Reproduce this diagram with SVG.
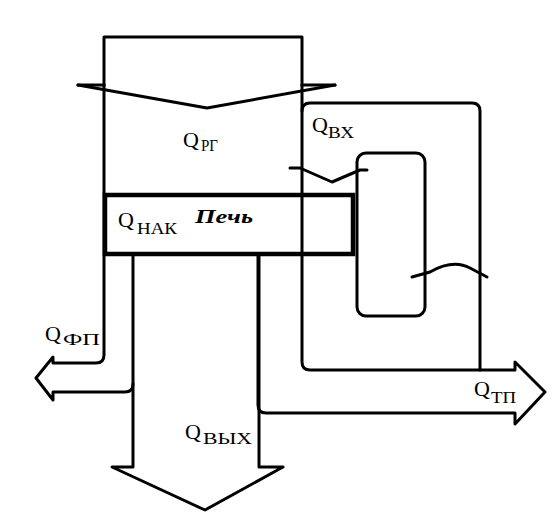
<svg xmlns="http://www.w3.org/2000/svg" width="559" height="524" viewBox="0 0 559 524">
<style>
.ln{fill:none;stroke:#000;stroke-width:3;stroke-linejoin:round;stroke-linecap:round}
.q{font-family:"Liberation Serif","Times New Roman",serif;font-size:22px;fill:#000}
.s{font-family:"Liberation Serif","Times New Roman",serif;font-size:16px;fill:#000}
.t{font-family:"Liberation Serif","Times New Roman",serif;font-size:18px;font-weight:bold;font-style:italic;fill:#000}
</style>
<rect width="559" height="524" fill="#fff"/>
<g id="connectors">
<path class="ln" d="M104,85 V37 H302 V85"/>
<path class="ln" d="M78,85 H104 M302,85 H335"/>
<path class="ln" d="M78,85 L207,108 L335,85"/>
<path class="ln" d="M104,85 V355 Q104,363 96,363 H53 V357 L36,378 L53,400 V392 H125 Q133,392 133,384"/>
<path class="ln" d="M133,254 V467 H112 L205,510 L283,467 H259 V254"/>
<path class="ln" d="M302,85 V362 Q302,370 310,370 H515 V362 L545,392 L515,424 V413 H266 Q258,413 258,405 V254"/>
<path class="ln" d="M302,111 Q302,103 310,103 H472 Q480,103 480,111 V370"/>
<path class="ln" d="M290,168 H300 L332,182 L360,170 H367"/>
<path class="ln" d="M412,277 L430,272 Q453,259 470,268 L487,277"/>
</g>
<g id="furnace">
<rect x="105" y="195" width="248" height="59" fill="none" stroke="#000" stroke-width="4.5"/>
<text class="t" x="195" y="223" textLength="58" lengthAdjust="spacingAndGlyphs">Печь</text>
</g>
<g id="exchanger">
<rect x="357" y="153" width="68" height="163" rx="9" fill="none" stroke="#000" stroke-width="3"/>
</g>
<g id="labels">
<text class="q" x="183" y="147">Q</text><text class="s" x="201" y="151" textLength="17" lengthAdjust="spacingAndGlyphs">РГ</text>
<text class="q" x="312" y="132">Q</text><text class="s" x="328" y="138" textLength="26" lengthAdjust="spacingAndGlyphs">ВХ</text>
<text class="q" x="118" y="227">Q</text><text class="s" x="137" y="234" textLength="40" lengthAdjust="spacingAndGlyphs">НАК</text>
<text class="q" x="45" y="341">Q</text><text class="s" x="63" y="345" textLength="37" lengthAdjust="spacingAndGlyphs">ФП</text>
<text class="q" x="185" y="439">Q</text><text class="s" x="203" y="444" textLength="49" lengthAdjust="spacingAndGlyphs">ВЫХ</text>
<text class="q" x="474" y="396">Q</text><text class="s" x="491" y="403" textLength="25" lengthAdjust="spacingAndGlyphs">ТП</text>
</g>
</svg>
